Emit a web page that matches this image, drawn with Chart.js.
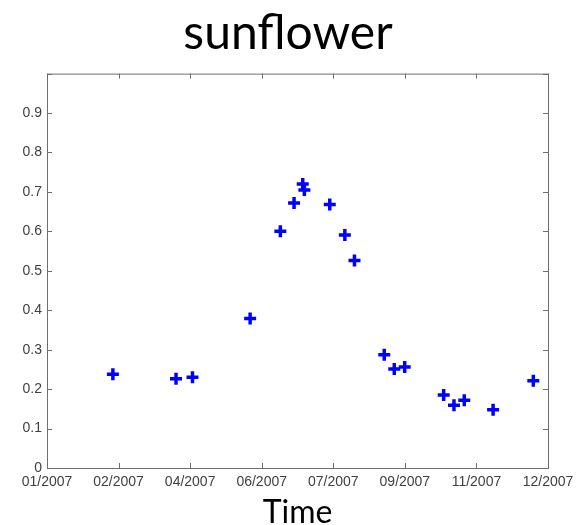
<!DOCTYPE html>
<html>
<head>
<meta charset="utf-8">
<script src="https://cdn.jsdelivr.net/npm/chart.js@4/dist/chart.umd.min.js"></script>
<style>
  html, body { margin: 0; padding: 0; background: #fff; }
  #wrap { width: 576px; height: 525px; }
</style>
</head>
<body>
<div id="wrap"><canvas id="c" width="576" height="525"></canvas></div>
<script>
// day of year 2007 (0 = 01 Jan) and the measured value
const days = [48, 94, 106, 148, 170, 180, 186.3, 187.5, 206, 217, 224, 245.7, 253, 260.6, 289, 296.5, 304, 325, 354.3];
const values = [0.238, 0.226, 0.230, 0.379, 0.600, 0.672, 0.720, 0.705, 0.668, 0.591, 0.526, 0.287, 0.251, 0.256, 0.185, 0.159, 0.172, 0.148, 0.221];

const xTickLabels = ['01/2007', '02/2007', '04/2007', '06/2007', '07/2007', '09/2007', '11/2007', '12/2007'];
const yTicks = [0, 0.1, 0.2, 0.3, 0.4, 0.5, 0.6, 0.7, 0.8, 0.9, 1];
const X_MAX = 365;

const points = days.map((d, i) => ({ x: d, y: values[i] }));

// matlab style box with inward ticks
const boxTicks = {
    id: 'boxTicks',
    afterDraw(chart) {
        const { ctx, chartArea: a, scales } = chart;
        ctx.save();
        ctx.strokeStyle = '#6e6e6e';
        ctx.lineWidth = 1;
        ctx.strokeRect(a.left + 0.5, a.top + 0.5, a.right - a.left, a.bottom - a.top);
        ctx.beginPath();
        scales.y.ticks.forEach(t => {
            const y = Math.round(scales.y.getPixelForValue(t.value)) + 0.5;
            ctx.moveTo(a.left, y); ctx.lineTo(a.left + 5, y);
            ctx.moveTo(a.right, y); ctx.lineTo(a.right - 5, y);
        });
        scales.x.ticks.forEach(t => {
            const x = Math.round(scales.x.getPixelForValue(t.value)) + 0.5;
            ctx.moveTo(x, a.bottom); ctx.lineTo(x, a.bottom - 5);
            ctx.moveTo(x, a.top); ctx.lineTo(x, a.top + 5);
        });
        ctx.stroke();
        ctx.restore();
    }
};

new Chart(document.getElementById('c'), {
    type: 'scatter',
    data: {
        datasets: [{
            data: points,
            pointStyle: 'cross',
            pointRadius: 6,
            pointBorderWidth: 3.5,
            borderColor: '#0000ff',
            backgroundColor: '#0000ff'
        }]
    },
    options: {
        responsive: false,
        animation: false,
        layout: { padding: 0 },
        plugins: {
            legend: { display: false },
            tooltip: { enabled: false },
            title: {
                display: true,
                text: 'sunflower',
                color: '#000',
                font: { family: 'Lato', size: 48, weight: 'normal' },
                padding: { top: 5, bottom: 11 }
            }
        },
        scales: {
            x: {
                type: 'linear',
                min: 0,
                max: X_MAX,
                afterBuildTicks: s => {
                    s.ticks = xTickLabels.map((_, i) => ({ value: i * X_MAX / (xTickLabels.length - 1) }));
                },
                afterFit: s => {
                    s.height = 57;
                    s.paddingRight = 28;
                },
                grid: { display: false, drawTicks: false },
                border: { display: false },
                ticks: {
                    autoSkip: false,
                    maxRotation: 0,
                    padding: 6,
                    color: '#404040',
                    font: { family: 'Liberation Sans', size: 14 },
                    callback: (v, i) => xTickLabels[i]
                },
                title: {
                    display: true,
                    text: 'Time',
                    color: '#000',
                    font: { family: 'Lato', size: 32, lineHeight: 0.8 },
                    padding: { top: 0, bottom: 0 }
                }
            },
            y: {
                min: 0,
                max: 1,
                afterBuildTicks: s => { s.ticks = yTicks.map(v => ({ value: v })); },
                afterFit: s => { s.width = 47; },
                grid: { display: false, drawTicks: false },
                border: { display: false },
                ticks: {
                    padding: 5,
                    color: '#404040',
                    font: { family: 'Liberation Sans', size: 14 },
                    callback: v => (v === 1 ? '' : String(Math.round(v * 10) / 10))
                }
            }
        }
    },
    plugins: [boxTicks]
});
</script>
</body>
</html>
